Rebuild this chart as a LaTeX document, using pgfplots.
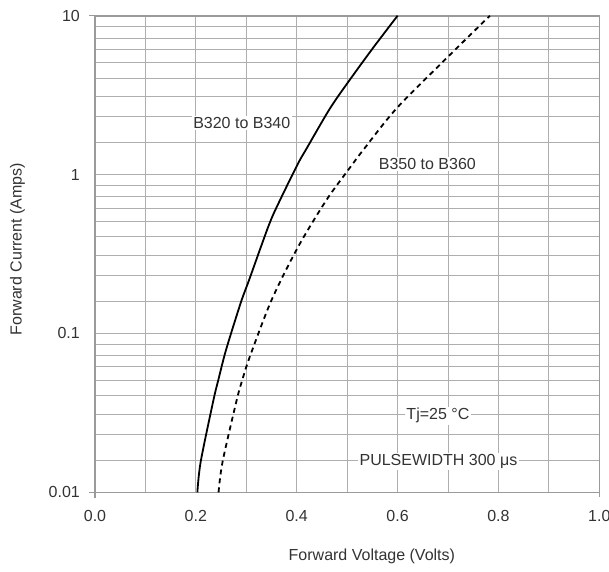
\documentclass[border=0pt]{standalone}
\usepackage{pgfplots}
\pgfplotsset{compat=1.18}
\usepackage{fontspec}
\setmainfont{Liberation Sans}
\definecolor{gridgray}{HTML}{AEAEAE}
\definecolor{framegray}{HTML}{9A9A9A}
\definecolor{txt}{HTML}{333333}
\begin{document}
\fontsize{16}{19}\selectfont
\begin{tikzpicture}
\useasboundingbox (-95pt,-78.7pt) rectangle (514pt,492.3pt);
\begin{axis}[
    at={(0,0)}, anchor=south west,
    scale only axis,
    width=504.3pt, height=476.6pt,
    ymode=log,
    xmin=0, xmax=1, ymin=0.01, ymax=10,
    xtick={0,0.2,0.4,0.6,0.8,1},
    xticklabels={0.0,0.2,0.4,0.6,0.8,1.0},
    minor xtick={0.1,0.3,0.5,0.7,0.9},
    ytick={0.01,0.1,1,10},
    yticklabels={0.01,0.1,1,10},
    % the chart's own (uneven) minor grid
    minor ytick={0.0159,0.0232,0.0311,0.0405,0.0506,0.0615,0.0723,0.0851,
                 0.159,0.232,0.311,0.405,0.506,0.615,0.723,0.851,
                 1.59,2.32,3.11,4.05,5.06,6.15,7.23,8.51},
    grid=both,
    major grid style={draw=gridgray, line width=1pt},
    minor grid style={draw=gridgray, line width=1pt},
    axis line style={draw=framegray, line width=1.6pt},
    tick style={draw=none},
    xticklabel style={anchor=north, inner sep=0pt, yshift=-18pt, text=txt},
    yticklabel style={anchor=east, inner sep=0pt, xshift=-15pt, text=txt},
    xlabel={Forward Voltage (Volts)},
    xlabel style={at={(rel axis cs:0.549,0)}, anchor=center, yshift=-64pt, text=txt},
]
\addplot[black, line width=1.8pt, smooth, tension=0.5] coordinates {
    (0.203,0.01) (0.2096,0.0156) (0.2349,0.0381) (0.2445,0.0509)
    (0.2598,0.0787) (0.289,0.156) (0.306,0.219) (0.345,0.483)
    (0.367,0.692) (0.403,1.18) (0.418,1.43) (0.466,2.61)
    (0.506,3.98) (0.552,6.31) (0.600,10)};
\addplot[black, line width=1.8pt, dash pattern=on 5pt off 4pt, smooth, tension=0.5] coordinates {
    (0.245,0.01) (0.253,0.0156) (0.281,0.0381) (0.292,0.0509)
    (0.307,0.0714) (0.350,0.162) (0.403,0.352)
    (0.459,0.692) (0.505,1.10) (0.532,1.43) (0.598,2.61)
    (0.697,5.40) (0.783,10)};
\node[fill=white, inner sep=1.5pt, text=txt] at (axis cs:0.291,2.12) {B320 to B340};
\node[fill=white, inner sep=1.5pt, text=txt] at (axis cs:0.659,1.165) {B350 to B360};
\node[fill=white, inner sep=1.5pt, text=txt] at (axis cs:0.680,0.0303) {Tj=25 °C};
\node[fill=white, inner sep=1.5pt, text=txt] at (axis cs:0.681,0.01558) {PULSEWIDTH 300 μs};
\end{axis}
\node[rotate=90, text=txt] at (-77.5pt,243pt) {Forward Current (Amps)};
\draw[framegray, line width=1.6pt] (-6pt,0) -- (0,0) -- (0,-6pt);
\draw[framegray, line width=1.6pt] (-6pt,476.6pt) -- (0,476.6pt);
\draw[framegray, line width=1.6pt] (504.3pt,0) -- (504.3pt,-5pt);
\end{tikzpicture}
\end{document}
